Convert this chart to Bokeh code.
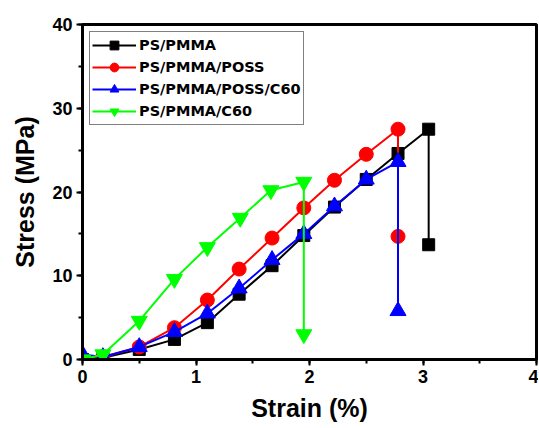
from bokeh.plotting import figure
from bokeh.models import SingleIntervalTicker, Range1d
from bokeh.embed import file_html
from bokeh.resources import INLINE

# Data (strain %, stress MPa)
ps_pmma_x = [0.0, 0.18, 0.5, 0.81, 1.1, 1.38, 1.67, 1.95, 2.22, 2.5, 2.78, 3.05, 3.05]
ps_pmma_y = [0.0, 0.2, 1.2, 2.4, 4.4, 7.8, 11.2, 14.8, 18.2, 21.5, 24.6, 27.5, 13.7]

poss_x = [0.0, 0.18, 0.5, 0.81, 1.1, 1.38, 1.67, 1.95, 2.22, 2.5, 2.78, 2.78]
poss_y = [0.0, 0.3, 1.5, 3.8, 7.1, 10.8, 14.5, 18.1, 21.4, 24.5, 27.5, 14.7]

poss_c60_x = [0.0, 0.18, 0.5, 0.81, 1.1, 1.38, 1.67, 1.95, 2.22, 2.5, 2.78, 2.78]
poss_c60_y = [0.6, 0.3, 1.5, 3.3, 5.5, 8.5, 11.9, 15.0, 18.3, 21.5, 23.6, 5.8]

c60_x = [0.0, 0.18, 0.5, 0.81, 1.1, 1.39, 1.66, 1.95, 1.95]
c60_y = [0.0, 0.6, 4.6, 9.6, 13.4, 16.9, 20.2, 21.2, 3.0]

labels = ["PS/PMMA", "PS/PMMA/POSS", "PS/PMMA/POSS/C60", "PS/PMMA/C60"]
colors = ["#000000", "#ff0000", "#0000ff", "#00ff00"]
markers = ["square", "circle", "triangle", "inverted_triangle"]
sizes = [12, 14, 16, 16]

p = figure(width=538, height=426, output_backend="svg", toolbar_location=None,
           x_range=Range1d(0, 4), y_range=Range1d(0, 40),
           min_border_left=82, min_border_right=2, min_border_top=24, min_border_bottom=67)
p.background_fill_color = "white"
p.border_fill_color = "white"
p.grid.visible = False
p.outline_line_color = "black"
p.outline_line_width = 3

series = [(ps_pmma_x, ps_pmma_y), (poss_x, poss_y), (poss_c60_x, poss_c60_y), (c60_x, c60_y)]
for (xs, ys), lab, col, mk, sz in zip(series, labels, colors, markers, sizes):
    p.line(xs, ys, line_color=col, line_width=2, legend_label=lab)
    p.scatter(xs, ys, marker=mk, size=sz, fill_color=col, line_color=col, legend_label=lab)

p.xaxis.ticker = SingleIntervalTicker(interval=1, num_minor_ticks=2)
p.yaxis.ticker = SingleIntervalTicker(interval=10, num_minor_ticks=2)

for ax in (p.xaxis, p.yaxis):
    ax.axis_line_width = 3
    ax.axis_line_color = "black"
    ax.major_tick_line_width = 2
    ax.major_tick_out = 6
    ax.major_tick_in = 0
    ax.minor_tick_line_width = 2
    ax.minor_tick_out = 4
    ax.minor_tick_in = 0
    ax.major_label_text_font = "Liberation Sans"
    ax.major_label_text_font_style = "bold"
    ax.major_label_text_font_size = "18px"
    ax.major_label_text_color = "black"
    ax.axis_label_text_font = "Liberation Sans"
    ax.axis_label_text_font_style = "bold"
    ax.axis_label_text_font_size = "25px"
    ax.axis_label_text_color = "black"

p.xaxis.axis_label = "Strain (%)"
p.yaxis.axis_label = "Stress (MPa)"
p.xaxis.major_label_standoff = 4
p.yaxis.major_label_standoff = 4
p.xaxis.axis_label_standoff = 8
p.yaxis.axis_label_standoff = 10

lg = p.legend[0]
lg.location = "top_left"
lg.margin = 7
lg.padding = 2
lg.spacing = 0
lg.glyph_width = 44
lg.glyph_height = 22
lg.label_height = 20
lg.label_standoff = 3
lg.border_line_color = "black"
lg.border_line_width = 1
lg.background_fill_alpha = 1
lg.label_text_font = "DejaVu Sans"
lg.label_text_font_style = "bold"
lg.label_text_font_size = "14.5px"
lg.label_text_color = "black"

open("out.html", "w").write(file_html(p, INLINE))
